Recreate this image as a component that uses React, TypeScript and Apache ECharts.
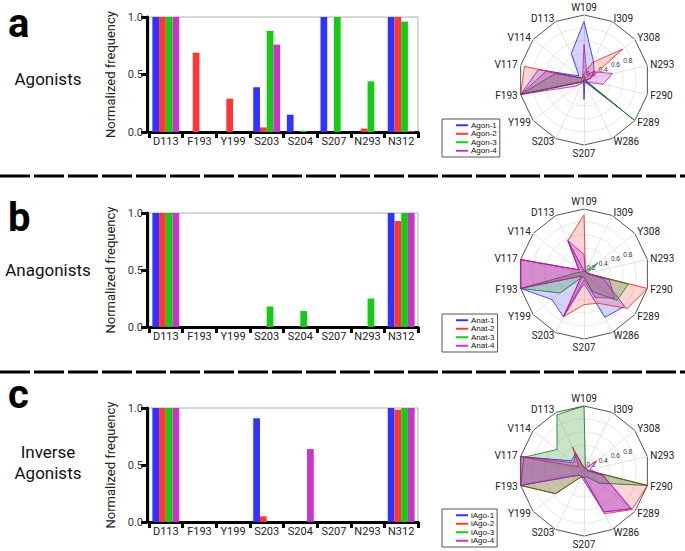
import React, { useEffect, useRef } from 'react';
import * as echarts from 'echarts';

const residues = ['D113', 'F193', 'Y199', 'S203', 'S204', 'S207', 'N293', 'N312'];
const yTickLabels = ['0.0', '0.5', '1.0'];

const agonNames = ['Agon-1', 'Agon-2', 'Agon-3', 'Agon-4'];
const anatNames = ['Anat-1', 'Anat-2', 'Anat-3', 'Anat-4'];
const iagoNames = ['iAgo-1', 'iAgo-2', 'iAgo-3', 'iAgo-4'];

const agon1 = [1, 0, 0, 0.39, 0.15, 1, 0, 1];
const agon2 = [1, 0.69, 0.29, 0.04, 0, 0, 0.03, 1];
const agon3 = [1, 0, 0, 0.88, 0.01, 1, 0.44, 0.96];
const agon4 = [1, 0, 0, 0.76, 0, 0, 0, 0.01];

const anat1 = [1, 0, 0, 0, 0, 0, 0, 1];
const anat2 = [1, 0, 0, 0, 0, 0, 0, 0.93];
const anat3 = [1, 0, 0, 0.18, 0.14, 0, 0.25, 1];
const anat4 = [1, 0, 0, 0, 0, 0, 0, 1];

const iago1 = [1, 0, 0, 0.91, 0, 0, 0, 1];
const iago2 = [1, 0, 0, 0.05, 0, 0, 0, 0.985];
const iago3 = [1, 0, 0, 0, 0, 0, 0, 1];
const iago4 = [1, 0, 0, 0, 0.64, 0, 0, 1];

// radar axes, counter-clockwise from the top
const radarAxes = ['W109', 'D113', 'V114', 'V117', 'F193', 'Y199', 'S203', 'S207', 'W286', 'F289', 'F290', 'N293', 'Y308', 'I309'];
const radarRings = [0.2, 0.4, 0.6, 0.8];

const rAgon1 = [0.9, 0.45, 0.1, 0.72, 1.0, 0.05, 0.02, 0.3, 0.03, 0.7, 0.03, 0.1, 0.2, 0.33];
const rAgon2 = [0.1, 0.05, 0.05, 0.94, 1.0, 0.05, 0.0, 0.0, 0.0, 0.05, 0.0, 0.1, 0.76, 0.3];
const rAgon3 = [0.05, 0.05, 0.05, 0.45, 1.0, 0.05, 0.0, 0.0, 0.0, 1.0, 0.0, 0.0, 0.0, 0.05];
const rAgon4 = [0.55, 0.05, 0.05, 0.6, 1.0, 0.15, 0.05, 0.05, 0.05, 0.05, 0.3, 0.45, 0.2, 0.1];

const rAnat1 = [0.05, 0.57, 0.1, 1.0, 1.0, 0.63, 0.73, 0.15, 0.74, 0.8, 0.3, 0.05, 0.05, 0.05];
const rAnat2 = [0.91, 0.57, 0.1, 1.0, 1.0, 0.05, 0.73, 0.47, 0.5, 0.85, 1.0, 0.05, 0.05, 0.05];
const rAnat3 = [0.05, 0.05, 0.05, 0.1, 1.0, 0.47, 0.05, 0.05, 0.3, 0.65, 0.7, 0.05, 0.27, 0.05];
const rAnat4 = [0.3, 0.57, 0.1, 1.0, 1.0, 0.05, 0.73, 0.1, 0.4, 0.6, 0.4, 0.05, 0.05, 0.05];

const rIago1 = [0.05, 0.3, 0.25, 1.0, 1.0, 0.1, 0.1, 0.15, 0.7, 0.93, 0.3, 0.05, 0.05, 0.05];
const rIago2 = [0.05, 0.41, 0.1, 1.0, 1.0, 0.56, 0.1, 0.1, 0.73, 0.95, 1.0, 0.05, 0.05, 0.05];
const rIago3 = [1.0, 0.96, 0.53, 0.95, 1.0, 0.56, 0.1, 0.1, 0.1, 0.3, 1.0, 0.05, 0.05, 0.05];
const rIago4 = [0.05, 0.3, 0.2, 1.0, 1.0, 0.1, 0.1, 0.1, 0.7, 0.93, 0.3, 0.1, 0.25, 0.05];

const barColors = ['#3232ff', '#ff3636', '#14cc14', '#c935c9'];
const radarLine = ['#2020ee', '#ee2020', '#107810', '#b020b0'];
const radarFill = ['rgba(50,50,255,0.3)', 'rgba(255,50,50,0.3)', 'rgba(0,128,0,0.3)', 'rgba(190,0,190,0.3)'];

const panels = [
  { letter: 'a', label: ['Agonists'], names: agonNames, bars: [agon1, agon2, agon3, agon4], radar: [rAgon1, rAgon2, rAgon3, rAgon4], top: 17, h: 115, cy: 80, legendTop: 119, letterY: 23, labelY: 79 },
  { letter: 'b', label: ['Anagonists'], names: anatNames, bars: [anat1, anat2, anat3, anat4], radar: [rAnat1, rAnat2, rAnat3, rAnat4], top: 213, h: 114, cy: 274, legendTop: 314, letterY: 217, labelY: 270 },
  { letter: 'c', label: ['Inverse', 'Agonists'], names: iagoNames, bars: [iago1, iago2, iago3, iago4], radar: [rIago1, rIago2, rIago3, rIago4], top: 408, h: 114, cy: 471, legendTop: 509, letterY: 394, labelY: 462 },
];

const FONT = 'Roboto, "Noto Sans", sans-serif';

function buildOption() {
  const grid: any[] = [];
  const xAxis: any[] = [];
  const yAxis: any[] = [];
  const radar: any[] = [];
  const legend: any[] = [];
  const series: any[] = [];
  const graphic: any[] = [];
  const R = 65;

  panels.forEach((p, k) => {
    grid.push({ left: 149, width: 269, top: p.top, height: p.h, show: true, borderColor: '#b0b0b0', borderWidth: 1, backgroundColor: 'transparent' });
    xAxis.push({
      gridIndex: k, type: 'category', data: residues,
      axisLine: { show: true, lineStyle: { color: '#000', width: 3 } },
      axisTick: { show: true, length: 6, lineStyle: { color: '#000', width: 3 } },
      axisLabel: { interval: 0, fontSize: 11, color: '#222', margin: 4, fontFamily: FONT },
    });
    yAxis.push({
      gridIndex: k, type: 'value', min: 0, max: 1, interval: 0.5, offset: 2,
      name: 'Normalized frequency', nameLocation: 'middle', nameGap: 30,
      nameTextStyle: { fontSize: 13, color: '#222', fontFamily: FONT },
      axisLine: { show: true, lineStyle: { color: '#000', width: 3 } },
      axisTick: { show: true, length: 6, lineStyle: { color: '#000', width: 3 } },
      axisLabel: { fontSize: 11, color: '#333', margin: 4, fontFamily: FONT, formatter: (v: number) => yTickLabels[Math.round(v * 2)] },
      splitLine: { show: false },
    });
    p.bars.forEach((vals, i) => {
      series.push({
        type: 'bar', name: p.names[i], xAxisIndex: k, yAxisIndex: k, data: vals,
        itemStyle: { color: barColors[i] }, barGap: '0%', barCategoryGap: '20%',
      });
    });

    // polygon radar (outer frame, spokes, names, data)
    radar.push({
      center: [584, p.cy], radius: R, startAngle: 90, shape: 'polygon', splitNumber: 1,
      indicator: radarAxes.map((n) => ({ name: n, min: 0, max: 1 })),
      axisName: { color: '#222', fontSize: 10, fontFamily: FONT },
      nameGap: 3,
      axisLine: { show: true, lineStyle: { color: '#dcdcdc', width: 0.8 } },
      splitLine: { show: true, lineStyle: { color: '#555', width: 1 } },
      splitArea: { show: false },
      axisLabel: { show: false },
      axisTick: { show: false },
    });
    // circular inner rings with radial labels
    radar.push({
      center: [584, p.cy], radius: R * 0.8, startAngle: 20, shape: 'circle', splitNumber: radarRings.length,
      indicator: radarAxes.map((n, i) => (i === 0
        ? { name: '', min: 0, max: radarRings[radarRings.length - 1], axisLabel: { show: true, fontSize: 6.5, color: '#333', showMinLabel: false, margin: 2, formatter: (v: number) => (v === 0 ? '' : v.toFixed(1)) } }
        : { name: '', min: 0, max: radarRings[radarRings.length - 1] })),
      axisName: { show: false },
      axisLine: { show: false },
      splitLine: { show: true, lineStyle: { color: '#e2e2e2', width: 0.8 } },
      splitArea: { show: false },
      axisLabel: { show: false },
      axisTick: { show: false },
    });
    series.push({
      type: 'radar', radarIndex: 2 * k, symbol: 'none',
      data: p.radar.map((vals, i) => ({
        name: p.names[i], value: vals,
        lineStyle: { color: radarLine[i], width: 0.8 },
        areaStyle: { color: radarFill[i] },
        itemStyle: { color: barColors[i] },
      })),
    });

    legend.push({
      orient: 'vertical', left: 442, top: p.legendTop, itemGap: 0,
      icon: 'rect', itemWidth: 12, itemHeight: 2,
      borderColor: '#555', borderWidth: 1, padding: [2, 3, 2, 14], borderRadius: 0,
      textStyle: { fontSize: 8, color: '#111', fontFamily: 'Liberation Sans, Arial, sans-serif', lineHeight: 8.5, padding: [0, 0, 0, -2] },
      data: p.names.map((n, i) => ({ name: n, itemStyle: { color: barColors[i] } })),
      selectedMode: false,
    });

    graphic.push({
      type: 'text', x: 8, y: p.letterY,
      style: { text: p.letter, font: `bold 40px ${FONT}`, fill: '#000', textVerticalAlign: 'middle' },
    });
    graphic.push({
      type: 'text', x: 48, y: p.labelY,
      style: { text: p.label.join('\n'), font: `17px ${FONT}`, fill: '#111', textAlign: 'center', textVerticalAlign: 'middle', lineHeight: 21 },
    });
  });

  [176, 372].forEach((y) => {
    graphic.push({
      type: 'line', shape: { x1: 0, y1: y, x2: 685, y2: y },
      style: { stroke: '#000', lineWidth: 3, lineDash: [30, 4] },
    });
  });

  return { animation: false, backgroundColor: '#fff', grid, xAxis, yAxis, radar, legend, series, graphic };
}

export default function App() {
  const ref = useRef<HTMLDivElement>(null);
  useEffect(() => {
    if (!ref.current) return;
    const chart = echarts.init(ref.current, undefined, { renderer: 'svg' });
    chart.setOption(buildOption() as any);
    return () => chart.dispose();
  }, []);
  return <div ref={ref} style={{ position: 'fixed', left: 0, top: 0, width: 685, height: 551, background: '#fff' }} />;
}
